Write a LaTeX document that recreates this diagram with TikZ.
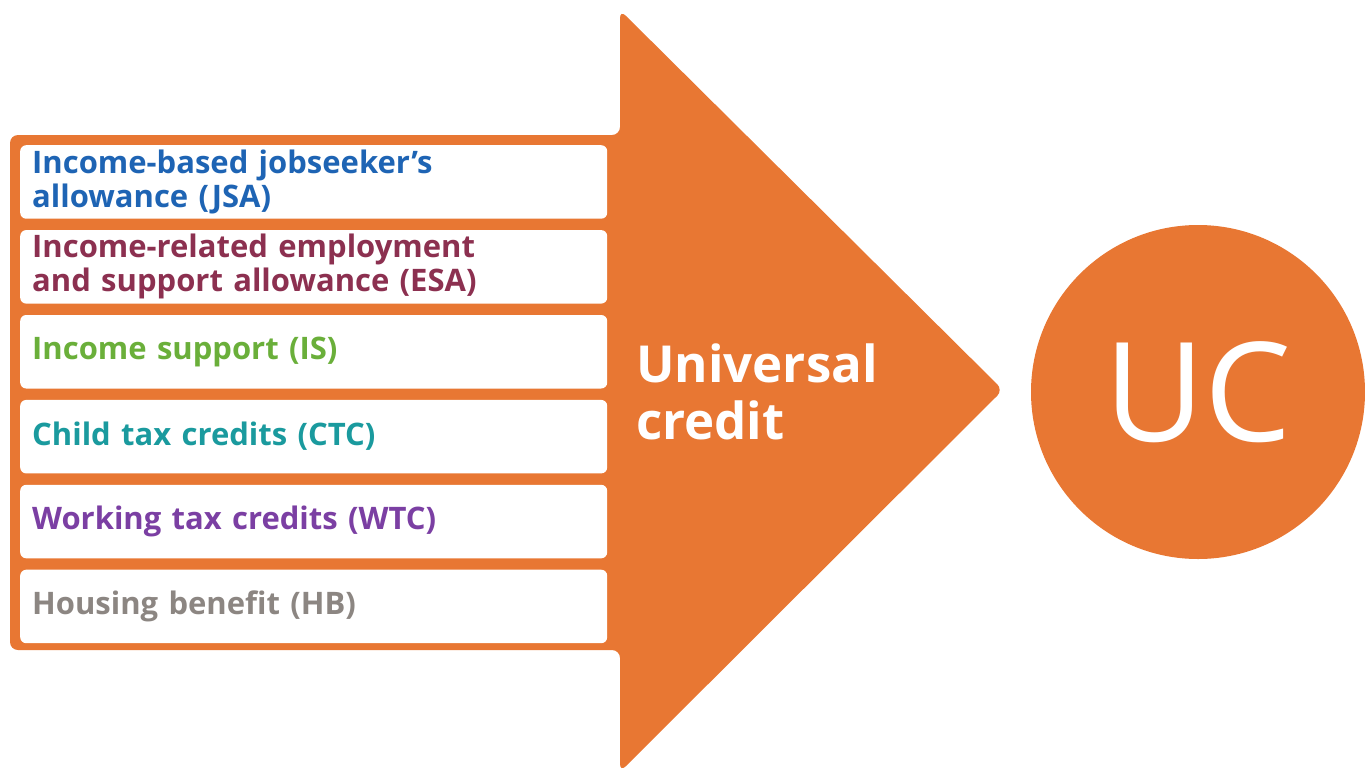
\documentclass[tikz,border=0pt]{standalone}
\usepackage{fontspec}
\setmainfont{Open Sans}
\usetikzlibrary{positioning}
\definecolor{UCOrange}{HTML}{E87733}
\definecolor{UCBlue}{HTML}{1E64B4}
\definecolor{UCMaroon}{HTML}{8C3050}
\definecolor{UCGreen}{HTML}{6AAF3A}
\definecolor{UCTeal}{HTML}{1A9A9E}
\definecolor{UCPurple}{HTML}{7B3FA3}
\definecolor{UCGray}{HTML}{8C8682}
\tikzset{
  benefit/.style={fill=white, rounded corners=6pt, anchor=north west,
    minimum width=587pt, minimum height=73.5pt, text width=563pt,
    inner xsep=12pt, align=left,
    font=\fontsize{31}{34}\selectfont\bfseries}
}
\begin{document}
\begin{tikzpicture}[x=1pt, y=-1pt]
                \useasboundingbox (0,0) rectangle (1365,774);
                
                % Big arrow
                \fill[UCOrange, rounded corners=8pt] (10,135) -- (620,135) -- (620,10) -- (1003,390)
                  -- (620,772) -- (620,650) -- (10,650) -- cycle;
                
                % Benefits being replaced
                \node[benefit, text=UCBlue] (jsa) at (20,145) {Income-based jobseeker’s\\allowance (JSA)};
                \node[benefit, text=UCMaroon, below=11pt of jsa.south west, anchor=north west] (esa) {Income-related employment\\and support allowance (ESA)};
                \node[benefit, text=UCGreen, below=11pt of esa.south west, anchor=north west] (is) {Income support (IS)};
                \node[benefit, text=UCTeal, below=11pt of is.south west, anchor=north west] (ctc) {Child tax credits (CTC)};
                \node[benefit, text=UCPurple, below=11pt of ctc.south west, anchor=north west] (wtc) {Working tax credits (WTC)};
                \node[benefit, text=UCGray, below=11pt of wtc.south west, anchor=north west] (hb) {Housing benefit (HB)};
                
                \node[text=white, anchor=west, align=left, inner sep=0pt, font=\fontsize{51}{57}\selectfont\bfseries] (uc-name) at (636,392) {Universal\\credit};
                
                \node[circle, fill=UCOrange, minimum size=334pt, inner sep=0pt, text=white, font=\fontsize{138}{138}\selectfont] (uc) at (1198,392) {UC};
            \end{tikzpicture}
\end{document}
